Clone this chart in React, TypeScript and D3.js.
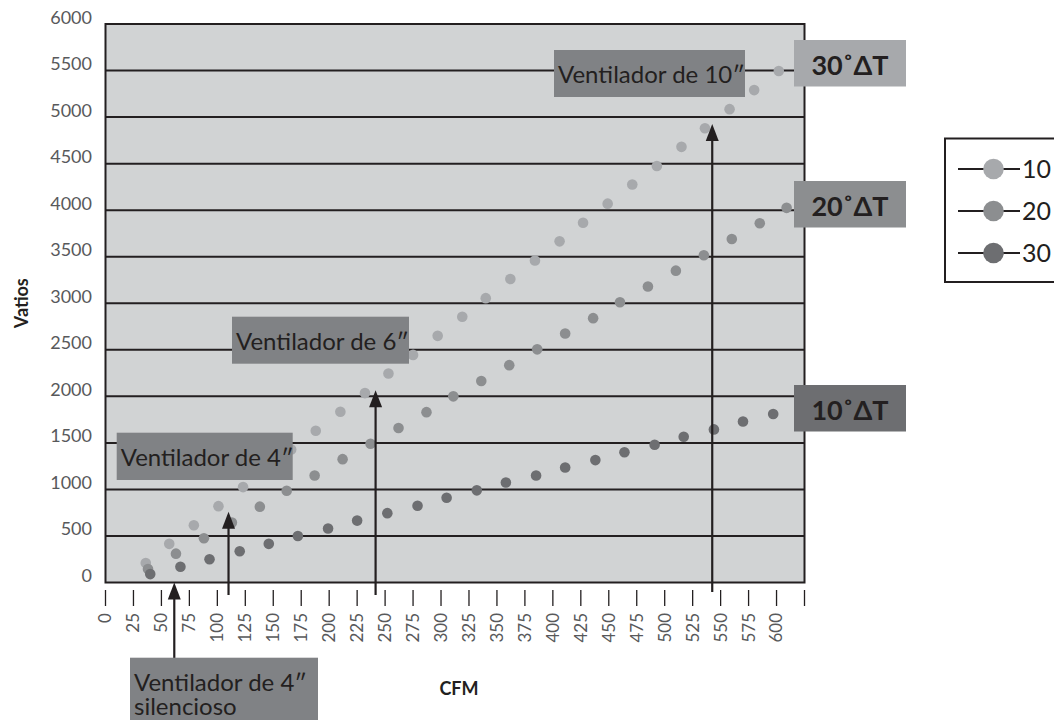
import React from "react";
import * as d3 from "d3";

// ---- data ----
const xTickValues = [0, 25, 50, 75, 100, 125, 150, 175, 200, 225, 250, 275, 300, 325, 350, 375, 400, 425, 450, 475, 500, 525, 550, 575, 600, 625];
const xTickLabels = ["0", "25", "50", "75", "100", "125", "150", "175", "200", "225", "250", "275", "300", "325", "350", "375", "400", "425", "450", "475", "500", "525", "550", "575", "600"];
const yTickValues = [0, 500, 1000, 1500, 2000, 2500, 3000, 3500, 4000, 4500, 5000, 5500, 6000];
const yGridValues = [500, 1000, 1500, 2000, 2500, 3000, 3500, 4000, 4500, 5000, 5500];

// 30°ΔT (light)
const lightCFM = [36, 57, 79, 101, 123, 144, 166, 188, 210, 232, 253, 275, 297, 319, 340, 362, 384, 406, 427, 449, 471, 493, 515, 536, 558, 580, 602];
const lightW = [210, 415, 615, 820, 1025, 1225, 1430, 1630, 1835, 2035, 2245, 2445, 2650, 2855, 3055, 3260, 3460, 3665, 3865, 4070, 4275, 4475, 4680, 4880, 5085, 5290, 5495];
// 20°ΔT (mid)
const midCFM = [38, 63, 88, 113, 138, 162, 187, 212, 237, 262, 287, 311, 336, 361, 386, 411, 436, 460, 485, 510, 535, 560, 585, 609];
const midW = [145, 310, 475, 645, 815, 985, 1150, 1325, 1490, 1660, 1830, 2000, 2165, 2335, 2505, 2675, 2840, 3010, 3180, 3350, 3515, 3690, 3860, 4025];
// 10°ΔT (dark)
const darkCFM = [40, 67, 93, 120, 146, 172, 199, 225, 252, 279, 305, 332, 358, 385, 411, 438, 464, 491, 517, 544, 570, 597];
const darkW = [90, 170, 250, 335, 415, 500, 580, 665, 745, 825, 910, 990, 1075, 1150, 1235, 1315, 1400, 1480, 1565, 1645, 1730, 1810];

const seriesLabels = ["30˚ΔT", "20˚ΔT", "10˚ΔT"];
const legendLabels = ["10", "20", "30"];

const fanLabels = [["Ventilador de 10″"], ["Ventilador de 6″"], ["Ventilador de 4″"], ["Ventilador de 4″", "silencioso"]];
const arrowCFM = [542.5, 241.5, 110, 61.5];
const arrowTipW = [4925, 2065, 760, 0];

// ---- styles/layout ----
const FONT = "Lato, 'Open Sans', sans-serif";
const INK = "#231f20";
const TICKTXT = "#58595b";
const PLOT_BG = "#d1d3d4";
const LIGHT = "#a7a9ac";
const MID = "#8c8e90";
const DARK = "#6d6e71";
const FANBOX = "#808285";

const x = d3.scaleLinear().domain([0, 625]).range([105.5, 804.5]);
const y = d3.scaleLinear().domain([0, 6000]).range([582.5, 24]);

const fanBoxes = [
  { x: 554, y: 50, w: 191, h: 47 },
  { x: 232, y: 316.7, w: 177, h: 47 },
  { x: 116.7, y: 432.7, w: 176, h: 47.3 },
  { x: 130, y: 657.7, w: 188, h: 70 },
];
const arrowTails = [592, 595, 595, 663];
const seriesBoxes = [
  { y: 40, fill: LIGHT },
  { y: 181, fill: MID },
  { y: 385, fill: DARK },
];

export default function App() {
  const [x0, x1] = x.range();
  const [yb, yt] = y.range();
  const series = [
    { cfm: lightCFM, w: lightW, color: LIGHT },
    { cfm: midCFM, w: midW, color: MID },
    { cfm: darkCFM, w: darkW, color: DARK },
  ];
  const legendColors = [LIGHT, MID, DARK];
  const legendY = [169, 211, 253];

  return (
    <svg
      width={1054}
      height={720}
      style={{ position: "absolute", left: 0, top: 0, background: "#fff" }}
      fontFamily={FONT}
    >
      <rect x={0} y={0} width={1054} height={720} fill="#fff" />
      {/* plot background */}
      <rect x={x0} y={yt} width={x1 - x0} height={yb - yt} fill={PLOT_BG} />
      {/* gridlines */}
      {yGridValues.map((v) => (
        <line key={v} x1={x0} x2={x1} y1={y(v)} y2={y(v)} stroke={INK} strokeWidth={2} />
      ))}
      {/* frame */}
      <rect x={x0} y={yt} width={x1 - x0} height={yb - yt} fill="none" stroke={INK} strokeWidth={2} />

      {/* y tick labels */}
      {yTickValues.map((v) => (
        <text key={v} x={92} y={y(v) - 0.5} textAnchor="end" fontSize={18} fill={TICKTXT}>
          {v}
        </text>
      ))}
      <text
        transform={`translate(28,${(yb + yt) / 2}) rotate(-90)`}
        textAnchor="middle"
        fontSize={18}
        fontWeight="bold"
        fill={INK}
      >
        Vatios
      </text>

      {/* x ticks */}
      {xTickValues.map((v) => (
        <line key={v} x1={x(v)} x2={x(v)} y1={590} y2={606} stroke={INK} strokeWidth={1.3} />
      ))}
      {xTickLabels.map((l, i) => (
        <text
          key={l}
          transform={`translate(${x(xTickValues[i])},613) rotate(-90)`}
          textAnchor="end"
          dy="0.35em"
          fontSize={17}
          fill={TICKTXT}
        >
          {l}
        </text>
      ))}
      <text x={459} y={695} textAnchor="middle" fontSize={18} fontWeight="bold" fill={INK}>
        CFM
      </text>

      {/* points */}
      {series.map((s, si) =>
        s.cfm.map((c, i) => (
          <circle key={`${si}-${i}`} cx={x(c)} cy={y(s.w[i])} r={5.3} fill={s.color} />
        ))
      )}

      {/* arrows */}
      {arrowCFM.map((c, i) => {
        const ax = x(c);
        const tip = y(arrowTipW[i]);
        return (
          <g key={i}>
            <line x1={ax} x2={ax} y1={arrowTails[i]} y2={tip + 10} stroke={INK} strokeWidth={2.2} />
            <path d={`M${ax},${tip} L${ax - 6.5},${tip + 17} L${ax + 6.5},${tip + 17} Z`} fill={INK} />
          </g>
        );
      })}

      {/* fan label boxes */}
      {fanLabels.map((lines, i) => {
        const b = fanBoxes[i];
        return (
          <g key={i}>
            <rect x={b.x} y={b.y} width={b.w} height={b.h} fill={FANBOX} />
            {lines.map((t, j) => (
              <text key={j} x={b.x + 4} y={b.y + 33} fontSize={24} fill={INK} dy={j * 24}>
                {t}
              </text>
            ))}
          </g>
        );
      })}

      {/* series label boxes */}
      {seriesLabels.map((t, i) => {
        const b = seriesBoxes[i];
        return (
          <g key={t}>
            <rect x={794} y={b.y} width={112} height={46.5} fill={b.fill} />
            <text x={850} y={b.y + 35} textAnchor="middle" fontSize={27} fontWeight="bold" fill={INK}>
              {t}
            </text>
          </g>
        );
      })}

      {/* legend */}
      <rect x={945} y={138.5} width={130} height={143.5} fill="#fff" stroke={INK} strokeWidth={2} />
      {legendLabels.map((t, i) => (
        <g key={t}>
          <line x1={958} x2={1020} y1={legendY[i]} y2={legendY[i]} stroke={INK} strokeWidth={2} />
          <circle cx={993.5} cy={legendY[i]} r={10.3} fill={legendColors[i]} />
          <text x={1022} y={legendY[i] + 9} fontSize={25} fill={INK}>
            {t}
          </text>
        </g>
      ))}
    </svg>
  );
}
